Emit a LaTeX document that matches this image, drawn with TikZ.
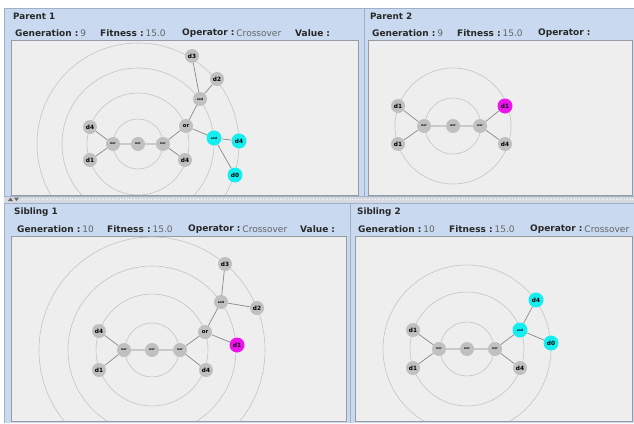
\documentclass[tikz,border=0pt]{standalone}
\usepackage{fontspec}
\setmainfont{DejaVu Sans}
\definecolor{panelblue}{RGB}{201,218,240}
\definecolor{panelline}{RGB}{160,176,198}
\definecolor{areagray}{RGB}{238,238,238}
\definecolor{areaborder}{RGB}{150,156,164}
\definecolor{nodegray}{RGB}{192,192,192}
\definecolor{cyanc}{RGB}{20,238,240}
\definecolor{magc}{RGB}{236,20,236}
\definecolor{ringgray}{RGB}{196,196,196}
\definecolor{edgegray}{RGB}{136,136,136}
\definecolor{titlec}{RGB}{40,40,40}
\definecolor{valc}{RGB}{100,100,100}
\definecolor{dividerc}{RGB}{214,218,224}
\newcommand{\dlab}{\fontsize{5.8}{6}\selectfont\bfseries}
\newcommand{\tlab}{\fontsize{3}{3}\selectfont\bfseries}
\newcommand{\olab}{\fontsize{5.3}{6}\selectfont\bfseries}
\tikzset{
  gnode/.style={circle, fill=nodegray, minimum size=14pt, inner sep=0pt, font=\dlab, text=black},
  cnode/.style={gnode, fill=cyanc, minimum size=15pt},
  mnode/.style={gnode, fill=magc, minimum size=15pt},
  inode/.style={gnode, font=\tlab},
  icnode/.style={cnode, font=\tlab},
  onode/.style={gnode, font=\olab},
  edge/.style={draw=edgegray, line width=0.7pt},
  ring/.style={draw=ringgray, line width=0.6pt},
  area/.style={fill=areagray, draw=areaborder, line width=0.6pt},
  ttl/.style={anchor=west, inner sep=0pt, font=\fontsize{8.8}{9}\selectfont\bfseries, text=titlec},
  lbl/.style={anchor=west, inner sep=0pt, font=\fontsize{9}{9}\selectfont\bfseries, text=titlec},
  val/.style={anchor=west, inner sep=0pt, font=\fontsize{9}{9}\selectfont, text=valc},
}
\begin{document}
\begin{tikzpicture}[x=1pt,y=-1pt]
\useasboundingbox (0,0) rectangle (634,423);
% background
\fill[white] (0,0) rectangle (634,423);
\fill[panelblue] (4,8) rectangle (634,423);
\draw[panelline, line width=0.8pt] (4.5,8) -- (4.5,423);
\draw[panelline, line width=0.6pt] (4,8.3) -- (634,8.3);
% vertical separators
\draw[panelline, line width=0.8pt] (364,8) -- (364,196);
\draw[panelline, line width=0.8pt] (350.5,203) -- (350.5,423);
% divider
\fill[dividerc] (4,196) rectangle (634,203);
\draw[white, line width=0.8pt, dotted] (22,199.5) -- (634,199.5);
\draw[panelline, line width=0.4pt] (4,196) -- (634,196) (4,203) -- (634,203);
\fill[black!60] (8,201) -- (10.5,197.5) -- (13,201) -- cycle;
\fill[black!60] (14,197.5) -- (19,197.5) -- (16.5,201) -- cycle;
% graph areas
\draw[area] (11,40) rectangle (358,195);
\draw[area] (368,40) rectangle (632,195);
\draw[area] (11,236) rectangle (346,421);
\draw[area] (355,236) rectangle (632,421);
% headers
\node[ttl] (t1) at (13,16) {Parent 1};
\node[lbl] (g1) at (15,33) {Generation :};
\node[val] (g1v) at (g1.east) {\,9};
\node[lbl] (f1) at (100,33) {Fitness :};
\node[val] (f1v) at (f1.east) {\,15.0};
\node[lbl] (o1) at (182,33) {Operator :};
\node[val] (o1v) at (o1.east) {\,Crossover};
\node[lbl] (v1) at (295,33) {Value :};
\node[ttl] (t2) at (370,16) {Parent 2};
\node[lbl] (g2) at (372,33) {Generation :};
\node[val] (g2v) at (g2.east) {\,9};
\node[lbl] (f2) at (457,33) {Fitness :};
\node[val] (f2v) at (f2.east) {\,15.0};
\node[lbl] (o2) at (538,33) {Operator :};
\node[ttl] (t3) at (14,212) {Sibling 1};
\node[lbl] (g3) at (17,229) {Generation :};
\node[val] (g3v) at (g3.east) {\,10};
\node[lbl] (f3) at (107,229) {Fitness :};
\node[val] (f3v) at (f3.east) {\,15.0};
\node[lbl] (o3) at (188,229) {Operator :};
\node[val] (o3v) at (o3.east) {\,Crossover};
\node[lbl] (v3) at (300,229) {Value :};
\node[ttl] (t4) at (357,212) {Sibling 2};
\node[lbl] (g4) at (358,229) {Generation :};
\node[val] (g4v) at (g4.east) {\,10};
\node[lbl] (f4) at (449,229) {Fitness :};
\node[val] (f4v) at (f4.east) {\,15.0};
\node[lbl] (o4) at (530,229) {Operator :};
\node[val] (o4v) at (o4.east) {\,Crossover};
% ===== Parent 1 =====
\begin{scope}
\clip (11.5,40.5) rectangle (357.5,194.5);
\foreach \r in {25,51,76,101} \draw[ring] (138,144) circle[radius=\r];
\end{scope}
\node[inode] (p1c) at (138,144) {nor};
\node[inode] (p1l) at (113,144) {nor};
\node[inode] (p1r) at (163,144) {nor};
\node[gnode] (p1d4a) at (90,127) {d4};
\node[gnode] (p1d1) at (90,160) {d1};
\node[onode] (p1or) at (186,126) {or};
\node[gnode] (p1d4b) at (185,160) {d4};
\node[inode] (p1and) at (200,99) {and};
\node[gnode] (p1d3) at (192,56) {d3};
\node[gnode] (p1d2) at (217,79) {d2};
\node[icnode] (p1andc) at (214,138) {and};
\node[cnode] (p1d4c) at (239,141) {d4};
\node[cnode] (p1d0) at (235,175) {d0};
\draw[edge] (p1l) -- (p1d4a) (p1l) -- (p1d1) (p1l) -- (p1c) (p1c) -- (p1r)
  (p1r) -- (p1or) (p1r) -- (p1d4b) (p1or) -- (p1and) (p1and) -- (p1d3)
  (p1and) -- (p1d2) (p1or) -- (p1andc) (p1andc) -- (p1d4c) (p1andc) -- (p1d0);
% ===== Parent 2 =====
\foreach \r in {28,58} \draw[ring] (453,126) circle[radius=\r];
\node[inode] (p2c) at (453,126) {nor};
\node[inode] (p2l) at (424,126) {nor};
\node[inode] (p2r) at (480,126) {nor};
\node[gnode] (p2d1a) at (398,106) {d1};
\node[gnode] (p2d1b) at (398,144) {d1};
\node[mnode] (p2d1m) at (505,106) {d1};
\node[gnode] (p2d4) at (505,144) {d4};
\draw[edge] (p2l) -- (p2d1a) (p2l) -- (p2d1b) (p2l) -- (p2c) (p2c) -- (p2r)
  (p2r) -- (p2d1m) (p2r) -- (p2d4);
% ===== Sibling 1 =====
\begin{scope}
\clip (11.5,236.5) rectangle (345.5,420.5);
\foreach \r in {27,56,84,113} \draw[ring] (152,350) circle[radius=\r];
\end{scope}
\node[inode] (s1c) at (152,350) {nor};
\node[inode] (s1l) at (124,350) {nor};
\node[inode] (s1r) at (180,350) {nor};
\node[gnode] (s1d4a) at (99,331) {d4};
\node[gnode] (s1d1) at (99,370) {d1};
\node[onode] (s1or) at (205,332) {or};
\node[gnode] (s1d4b) at (206,370) {d4};
\node[inode] (s1and) at (221,302) {and};
\node[gnode] (s1d3) at (225,264) {d3};
\node[gnode] (s1d2) at (257,308) {d2};
\node[mnode] (s1d1m) at (237,345) {d1};
\draw[edge] (s1l) -- (s1d4a) (s1l) -- (s1d1) (s1l) -- (s1c) (s1c) -- (s1r)
  (s1r) -- (s1or) (s1r) -- (s1d4b) (s1or) -- (s1and) (s1and) -- (s1d3)
  (s1and) -- (s1d2) (s1or) -- (s1d1m);
% ===== Sibling 2 =====
\begin{scope}
\clip (355.5,236.5) rectangle (631.5,420.5);
\foreach \r in {27,57,84} \draw[ring] (467,349) circle[radius=\r];
\end{scope}
\node[inode] (s2c) at (467,349) {nor};
\node[inode] (s2l) at (439,349) {nor};
\node[inode] (s2r) at (495,349) {nor};
\node[gnode] (s2d1a) at (413,330) {d1};
\node[gnode] (s2d1b) at (413,368) {d1};
\node[gnode] (s2d4) at (520,368) {d4};
\node[icnode] (s2and) at (520,330) {and};
\node[cnode] (s2d4c) at (536,300) {d4};
\node[cnode] (s2d0) at (551,343) {d0};
\draw[edge] (s2l) -- (s2d1a) (s2l) -- (s2d1b) (s2l) -- (s2c) (s2c) -- (s2r)
  (s2r) -- (s2d4) (s2r) -- (s2and) (s2and) -- (s2d4c) (s2and) -- (s2d0);
\end{tikzpicture}
\end{document}
